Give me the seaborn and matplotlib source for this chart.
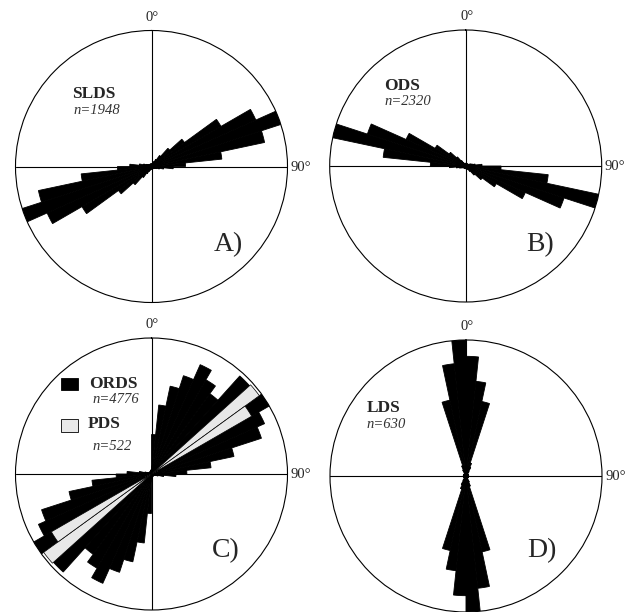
import numpy as np
import pandas as pd
import matplotlib
matplotlib.use("Agg")
import matplotlib.pyplot as plt
import seaborn as sns
from matplotlib.patches import Rectangle

# ---------------- data (half rose, 6-degree bins, % of the largest bin) ----------------
bin_width = 6
bin_starts = list(range(0, 180, bin_width))  # 0,6,...,174

slds = [2, 2, 2, 3, 4, 6, 10, 18, 30, 59, 84, 100, 85, 52, 25,
        16, 9, 6, 4, 3, 2, 2, 2, 2, 2, 2, 2, 2, 2, 2]
ods = [2, 2, 2, 2, 2, 2, 2, 2, 2, 2, 3, 4, 5, 7, 12,
       26, 61, 100, 76, 48, 26, 15, 9, 5, 3, 2, 2, 2, 2, 2]
ords = [29, 51, 66, 76, 88, 80, 73, 97, 88, 100, 91, 85, 62, 44, 26,
        18, 9, 5, 3, 2, 2, 2, 2, 2, 2, 2, 2, 2, 3, 3]
pds = [0, 0, 0, 0, 0, 0, 0, 4, 98, 85, 6, 0, 0, 0, 0,
       0, 0, 0, 0, 0, 0, 0, 0, 0, 0, 0, 0, 0, 0, 0]
lds = [88, 70, 56, 10, 7, 4, 2, 2, 2, 2, 2, 2, 2, 2, 2,
       2, 2, 2, 2, 2, 2, 2, 2, 2, 2, 5, 8, 57, 83, 100]

series_names = ["SLDS", "ODS", "ORDS", "PDS", "LDS"]
series_counts = ["n=1948", "n=2320", "n=4776", "n=522", "n=630"]
panel_of = {"SLDS": "A", "ODS": "B", "ORDS": "C", "PDS": "C", "LDS": "D"}
values_of = {"SLDS": slds, "ODS": ods, "ORDS": ords, "PDS": pds, "LDS": lds}
panel_labels = ["A)", "B)", "C)", "D)"]

rows = []
for s in series_names:
    for b, v in zip(bin_starts, values_of[s]):
        for offset in (0, 180):  # axial data: each bin also plotted opposite
            rows.append({"panel": panel_of[s], "series": s,
                         "theta": b + offset, "value": v})
df = pd.DataFrame(rows)

# ---------------- style ----------------
sns.set_theme(style="white")
plt.rcParams["font.family"] = ["Liberation Serif", "DejaVu Serif"]

W, H = 628, 612
STYLE = {
    "SLDS": dict(color="black", edgecolor="black", linewidth=0.6, zorder=3),
    "ODS": dict(color="black", edgecolor="black", linewidth=0.6, zorder=3),
    "ORDS": dict(color="black", edgecolor="black", linewidth=0.6, zorder=3),
    "PDS": dict(color="#e8e8e8", edgecolor="black", linewidth=0.5, zorder=4),
    "LDS": dict(color="black", edgecolor="black", linewidth=0.6, zorder=3),
}


def rose(data, color=None, **kws):
    ax = plt.gca()
    for s, sub in data.groupby("series", sort=False):
        ax.bar(np.deg2rad(sub["theta"].to_numpy(dtype=float)),
               sub["value"].to_numpy(dtype=float),
               width=np.deg2rad(bin_width), align="edge", **STYLE[s])


g = sns.FacetGrid(df, col="panel", col_wrap=2, col_order=["A", "B", "C", "D"],
                  sharex=False, sharey=False, despine=False,
                  subplot_kws=dict(projection="polar"))
g.map_dataframe(rose)

fig = g.figure
fig.set_size_inches(W / 100, H / 100)
fig.patch.set_facecolor("white")

# circle centres and radius (pixels)
centres = {"A": (151.5, 166.5), "B": (465.7, 166.0),
           "C": (151.5, 474.0), "D": (466.0, 476.0)}
R = 136.0

for ax, p in zip(g.axes.flat, ["A", "B", "C", "D"]):
    cx, cy = centres[p]
    ax.set_position([(cx - R) / W, 1 - (cy + R) / H, 2 * R / W, 2 * R / H])
    ax.set_title("")
    ax.set_theta_zero_location("N")
    ax.set_theta_direction(-1)
    ax.set_ylim(0, 100)
    ax.set_yticks([])
    ax.set_thetagrids([0, 90, 180, 270], labels=["", "", "", ""])
    ax.xaxis.grid(True, color="black", linewidth=0.8)
    ax.yaxis.grid(False)
    ax.set_axisbelow(True)
    ax.set_facecolor("white")
    ax.spines["polar"].set_color("black")
    ax.spines["polar"].set_linewidth(0.8)
    ax.set_xlabel("")
    ax.set_ylabel("")


def ftext(x, y, s, **kw):
    fig.text(x / W, 1 - y / H, s, **kw)


# 0° and 90° labels
for p, (cx, cy) in centres.items():
    ftext(cx + 1, cy - R - 13, "0°", ha="center", va="center", fontsize=10.5)
    ftext(cx + R + 3, cy + 1, "90°", ha="left", va="center", fontsize=10.5)

# panel letters
for (x, y), lab in zip([(228, 245), (540, 245), (226, 551), (542, 551)], panel_labels):
    ftext(x, y, lab, ha="center", va="center", fontsize=20)

bold = dict(ha="left", va="center", fontsize=12.5, fontweight="bold")
ital = dict(ha="left", va="center", fontsize=10.5, fontstyle="italic", color="#333333")

ftext(72, 94, series_names[0], **bold)
ftext(73, 110, series_counts[0], **ital)
ftext(384, 86, series_names[1], **bold)
ftext(384, 101.5, series_counts[1], **ital)
ftext(367, 408.5, series_names[4], **bold)
ftext(366, 424.5, series_counts[4], **ital)

# legend of panel C
ftext(89, 383.5, series_names[2], **bold)
ftext(92, 399.5, series_counts[2], **ital)
ftext(88, 424, series_names[3], **bold)
ftext(92, 446, series_counts[3], **ital)
fig.patches.append(Rectangle((61 / W, 1 - 389.5 / H), 17 / W, 12 / H,
                             transform=fig.transFigure, facecolor="black",
                             edgecolor="black", linewidth=0.6))
fig.patches.append(Rectangle((61 / W, 1 - 431.5 / H), 17 / W, 13 / H,
                             transform=fig.transFigure, facecolor="#e8e8e8",
                             edgecolor="black", linewidth=0.6))

fig.savefig("out.png", dpi=100, facecolor="white")
